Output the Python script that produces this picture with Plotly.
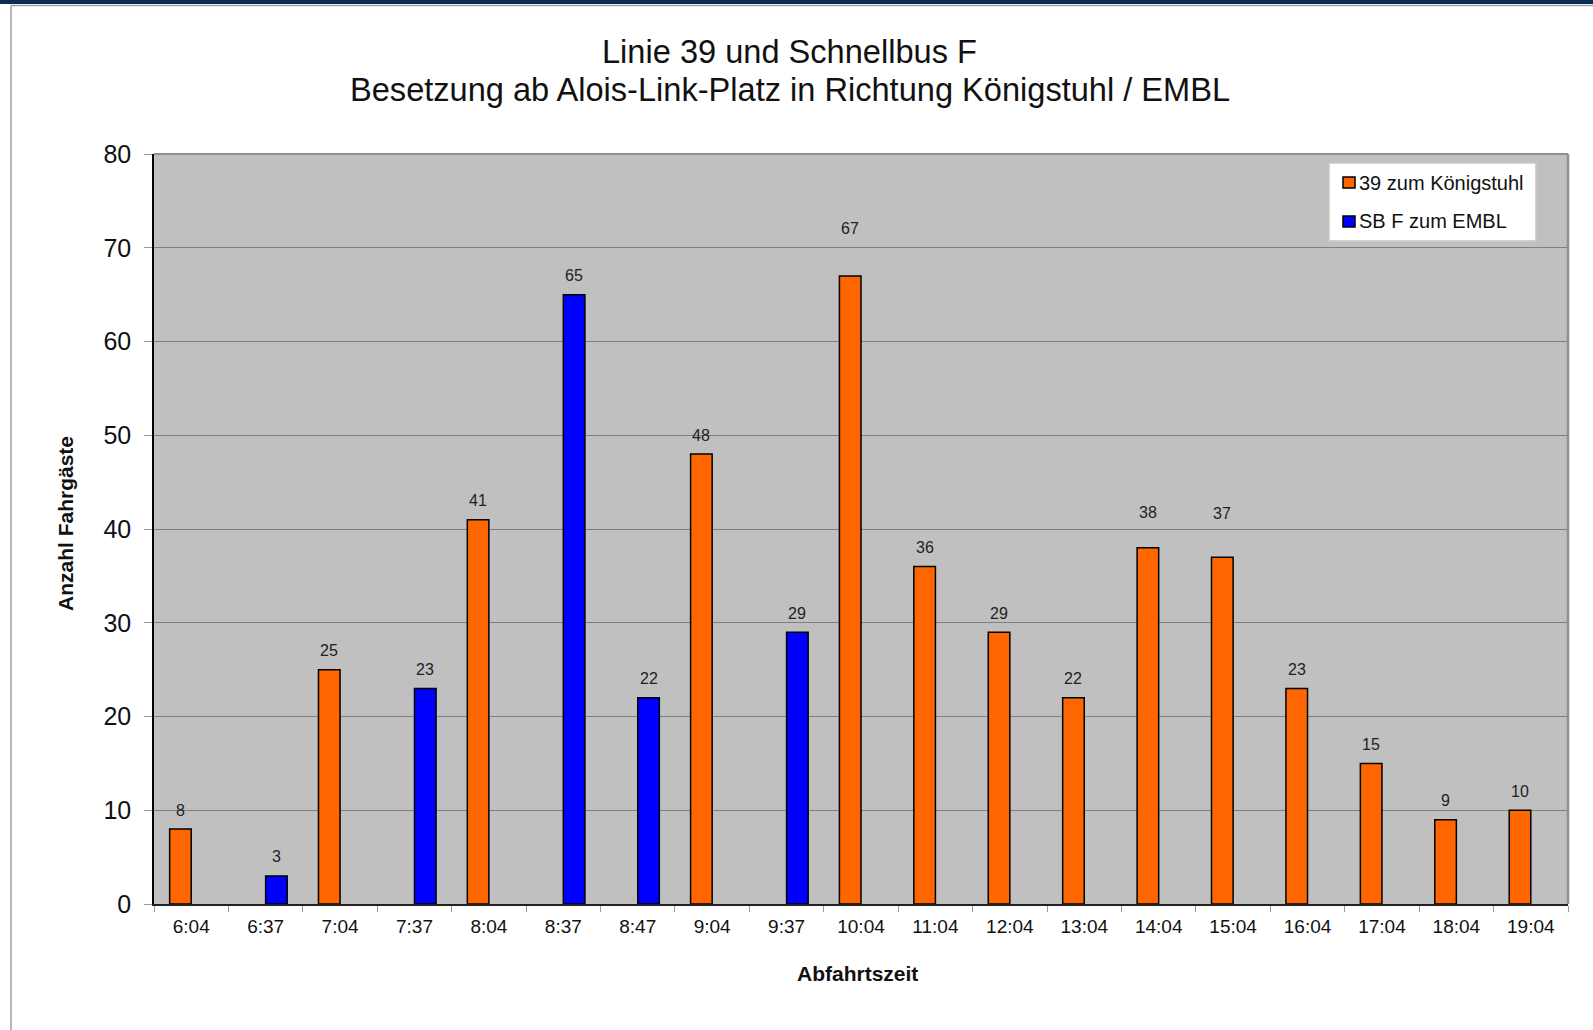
import plotly.graph_objects as go

# ---- data ----
categories = ["6:04", "6:37", "7:04", "7:37", "8:04", "8:37", "8:47", "9:04", "9:37",
              "10:04", "11:04", "12:04", "13:04", "14:04", "15:04", "16:04", "17:04",
              "18:04", "19:04"]
linie39 = [8, None, 25, None, 41, None, None, 48, None, 67, 36, 29, 22, 38, 37, 23, 15, 9, 10]
sb_f = [None, 3, None, 23, None, 65, 22, None, 29, None, None, None, None, None, None,
        None, None, None, None]
series_names = ["39 zum Königstuhl", "SB F zum EMBL"]
y_ticks = [0, 10, 20, 30, 40, 50, 60, 70, 80]
title_lines = ["Linie 39 und Schnellbus F",
               "Besetzung ab Alois-Link-Platz in Richtung Königstuhl / EMBL"]

# ---- style ----
W, H = 1593, 1030
ML, MR, MT, MB = 154, 25, 154, 126
PW, PH = W - ML - MR, H - MT - MB
FONT = "Liberation Sans, Arial, sans-serif"
ORANGE, BLUE = "#FF6600", "#0000FF"
colors = [ORANGE, BLUE]
label_extra_shift = {"10:04": 28, "14:04": 16, "15:04": 25}


def px_x(px):
    return (px - ML) / PW


def px_y(py):
    return (H - MB - py) / PH


fig = go.Figure()
for name, vals, col in zip(series_names, [linie39, sb_f], colors):
    fig.add_bar(x=categories, y=vals, name=name, showlegend=False,
                marker=dict(color=col, line=dict(color="black", width=1.5)))

# value labels
bar_half = PW / len(categories) * (1 - 0.42) / 4
annotations = []
for vals, sign in ((linie39, -1), (sb_f, 1)):
    for c, v in zip(categories, vals):
        if v is None:
            continue
        annotations.append(dict(x=c, y=v, xref="x", yref="y", text=str(v), showarrow=False,
                                xshift=sign * bar_half, yshift=19 + label_extra_shift.get(c, 0),
                                yanchor="middle", font=dict(size=16, color="#222", family=FONT)))

# titles
for line, cy in zip(title_lines, (51, 89)):
    annotations.append(dict(text=line, x=px_x(W / 2 - 7), y=px_y(cy), xref="paper", yref="paper",
                            showarrow=False, xanchor="center", yanchor="middle",
                            font=dict(size=32.6, color="#111", family=FONT)))

annotations.append(dict(text="<b>Abfahrtszeit</b>", x=px_x(857), y=px_y(973), xref="paper", yref="paper",
                        showarrow=False, yanchor="middle", font=dict(size=21, color="#111", family=FONT)))
annotations.append(dict(text="<b>Anzahl Fahrgäste</b>", x=px_x(65), y=px_y(524), xref="paper", yref="paper",
                        showarrow=False, textangle=-90, xanchor="center", yanchor="middle",
                        font=dict(size=21, color="#111", family=FONT)))

shapes = [
    dict(type="rect", xref="paper", yref="paper", x0=px_x(0), x1=px_x(W), y0=px_y(4), y1=px_y(0),
         fillcolor="#0b2d52", line=dict(width=0), layer="above"),
    dict(type="line", xref="paper", yref="paper", x0=px_x(11), x1=px_x(W), y0=px_y(5.5), y1=px_y(5.5),
         line=dict(color="#a0a0a0", width=1.5)),
    dict(type="line", xref="paper", yref="paper", x0=px_x(11), x1=px_x(11), y0=px_y(5.5), y1=px_y(H),
         line=dict(color="#a0a0a0", width=1.5)),
    dict(type="line", xref="paper", yref="paper", x0=1, x1=1, y0=0, y1=1,
         line=dict(color="#909090", width=2.5)),
    dict(type="line", xref="paper", yref="paper", x0=0, x1=1, y0=1, y1=1,
         line=dict(color="#909090", width=2)),
]

# legend (drawn box)
LX0, LX1, LY0, LY1 = 1329, 1536, 163, 241
shapes.append(dict(type="rect", xref="paper", yref="paper", x0=px_x(LX0), x1=px_x(LX1),
                   y0=px_y(LY1), y1=px_y(LY0), fillcolor="white",
                   line=dict(color="#c8c8c8", width=1.5), layer="above"))
for name, col, cy in zip(series_names, colors, (182.5, 221.5)):
    shapes.append(dict(type="rect", xref="paper", yref="paper", x0=px_x(1343), x1=px_x(1355),
                       y0=px_y(cy + 5.5), y1=px_y(cy - 5.5), fillcolor=col,
                       line=dict(color="black", width=1.5), layer="above"))
    annotations.append(dict(text=name, x=px_x(1357), y=px_y(cy), xref="paper", yref="paper",
                            showarrow=False, xanchor="left", yanchor="middle",
                            font=dict(size=20, color="#111", family=FONT)))

fig.update_layout(
    width=W, height=H,
    margin=dict(l=ML, r=MR, t=MT, b=MB, pad=0),
    paper_bgcolor="white", plot_bgcolor="#C0C0C0",
    barmode="group", bargap=0.42, bargroupgap=0,
    font=dict(family=FONT, color="#111"),
    showlegend=False,
    xaxis=dict(showgrid=False, showline=True, linecolor="#222", linewidth=1.5,
               ticks="outside", tickson="boundaries", ticklen=6, tickcolor="#999",
               ticklabelstandoff=4,
               tickfont=dict(size=19, color="#111", family=FONT), fixedrange=True),
    yaxis=dict(range=[0, 80], tickvals=y_ticks, showgrid=True, gridcolor="#808080", gridwidth=1,
               showline=True, linecolor="black", linewidth=1.5, zeroline=False,
               ticks="outside", ticklen=8, tickcolor="#999", ticklabelstandoff=8,
               tickfont=dict(size=25, color="#111", family=FONT), fixedrange=True),
    annotations=annotations, shapes=shapes,
)

fig.write_html("out.html", config={"displayModeBar": False},
               post_script="document.body.style.margin='0';document.body.style.padding='0';")
